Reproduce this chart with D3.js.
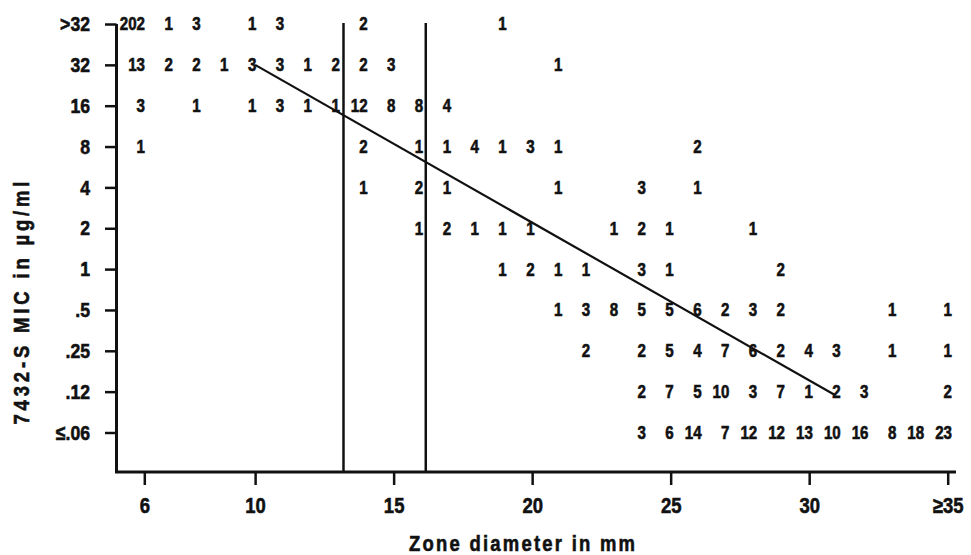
<!DOCTYPE html>
<html lang="en">
<meta charset="utf-8">
<style>
body {
  margin: 0;
  background: #fff;
}
svg text {
  font-family: 'Liberation Sans', Arial, sans-serif;
  font-weight: bold;
  fill: #111;
  stroke: #111;
  stroke-width: 0.6px;
}
.axis .domain {
  display: none;
}
.axis line, .frame, .cut, .reg {
  stroke: #111;
  fill: none;
}
.cell {
  font-size: 18px;
}
.yaxis text {
  font-size: 21px;
}
.xaxis text {
  font-size: 22px;
}
.title {
  font-size: 22px;
}
</style>
<body>
<div id="chart"></div>

<script src="https://d3js.org/d3.v7.min.js"></script>
<script>

// page size
var width = 971,
    height = 555;

// x axis: zone diameter (mm)
var zoneTicks = [6, 10, 15, 20, 25, 30, 35];
var zoneTickLabels = ["6", "10", "15", "20", "25", "30", "\u226535"];

// y axis: MIC rows (>32 and <=.06 put one step past the ends)
var micRows = [64, 32, 16, 8, 4, 2, 1, 0.5, 0.25, 0.125, 0.0625];
var micLabels = [">32", "32", "16", "8", "4", "2", "1", ".5", ".25", ".12", "\u2264.06"];

// number of strains per cell, [zone mm, count], one array per MIC row
var rowGt32 = [[6, 202], [7, 1], [8, 3], [10, 1], [11, 3], [14, 2], [19, 1]];
var row32   = [[6, 13], [7, 2], [8, 2], [9, 1], [10, 3], [11, 3], [12, 1], [13, 2], [14, 2], [15, 3], [21, 1]];
var row16   = [[6, 3], [8, 1], [10, 1], [11, 3], [12, 1], [13, 1], [14, 12], [15, 8], [16, 8], [17, 4]];
var row8    = [[6, 1], [14, 2], [16, 1], [17, 1], [18, 4], [19, 1], [20, 3], [21, 1], [26, 2]];
var row4    = [[14, 1], [16, 2], [17, 1], [21, 1], [24, 3], [26, 1]];
var row2    = [[16, 1], [17, 2], [18, 1], [19, 1], [20, 1], [23, 1], [24, 2], [25, 1], [28, 1]];
var row1    = [[19, 1], [20, 2], [21, 1], [22, 1], [24, 3], [25, 1], [29, 2]];
var rowP5   = [[21, 1], [22, 3], [23, 8], [24, 5], [25, 5], [26, 6], [27, 2], [28, 3], [29, 2], [33, 1], [35, 1]];
var rowP25  = [[22, 2], [24, 2], [25, 5], [26, 4], [27, 7], [28, 6], [29, 2], [30, 4], [31, 3], [33, 1], [35, 1]];
var rowP12  = [[24, 2], [25, 7], [26, 5], [27, 10], [28, 3], [29, 7], [30, 1], [31, 2], [32, 3], [35, 2]];
var rowLe06 = [[24, 3], [25, 6], [26, 14], [27, 7], [28, 12], [29, 12], [30, 13], [31, 10], [32, 16], [33, 8], [34, 18], [35, 23]];

var rows = [rowGt32, row32, row16, row8, row4, row2, row1, rowP5, rowP25, rowP12, rowLe06];

// zone breakpoints (mm) and regression line [zone, MIC]
var breakpoints = [13.19, 16.16];
var regression = [[10, 32], [30.93, 0.118]];

// layout
var axisX = 116.5,
    axisY = 472,
    axisEnd = 956,
    narrow = 0.84; // no condensed font installed, so squeeze glyphs

var x = d3.scaleLinear().domain([6, 35]).range([144.3, 947.7]);
// numbers are set flush right in their column
var xCell = d3.scaleLinear().domain([6, 35]).range([145, 952]);
var y = d3.scaleLog().base(2).domain([64, 0.0625]).range([24, 432.5]);

var svg = d3.select("#chart").append("svg")
    .attr("width", width)
    .attr("height", height);

// axes
var yAxis = svg.append("g")
    .attr("class", "axis yaxis")
    .attr("transform", "translate(" + axisX + ",0)")
    .call(d3.axisLeft(y)
      .tickValues(micRows)
      .tickFormat(function(d, i) { return micLabels[i]; })
      .tickSize(11.5)
      .tickPadding(15));
yAxis.selectAll("line").attr("stroke-width", 2.5);
yAxis.selectAll("text")
    .attr("fill", "#111")
    .attr("x", -26.5 / narrow)
    .attr("transform", "scale(" + narrow + ",1)");

var xAxis = svg.append("g")
    .attr("class", "axis xaxis")
    .attr("transform", "translate(0," + axisY + ")")
    .call(d3.axisBottom(x)
      .tickValues(zoneTicks)
      .tickFormat(function(d, i) { return zoneTickLabels[i]; })
      .tickSize(13)
      .tickPadding(12));
xAxis.selectAll("line").attr("stroke-width", 2.5);
xAxis.selectAll("text")
    .attr("fill", "#111")
    .attr("transform", "scale(" + narrow + ",1)");

// frame: left and bottom axis lines
svg.append("path")
    .attr("class", "frame")
    .attr("stroke-width", 3)
    .attr("d", "M" + axisX + "," + y(micRows[0]) + "V" + axisY + "H" + axisEnd);

// breakpoint lines
svg.selectAll(".cut")
    .data(breakpoints)
  .enter().append("line")
    .attr("class", "cut")
    .attr("stroke-width", 2.5)
    .attr("x1", function(d) { return x(d); })
    .attr("x2", function(d) { return x(d); })
    .attr("y1", y(micRows[0]) - 1)
    .attr("y2", axisY);

// regression line
svg.append("path")
    .datum(regression)
    .attr("class", "reg")
    .attr("stroke-width", 2.2)
    .attr("d", d3.line()
      .x(function(d) { return x(d[0]); })
      .y(function(d) { return y(d[1]); }));

// counts
rows.forEach(function(row, i) {
  svg.append("g")
    .selectAll("text")
      .data(row)
    .enter().append("text")
      .attr("class", "cell")
      .attr("text-anchor", "end")
      .attr("dy", "0.36em")
      .attr("transform", function(d) {
        return "translate(" + xCell(d[0]) + "," + y(micRows[i]) + ") scale(" + narrow + ",1)";
      })
      .text(function(d) { return d[1]; });
});

// axis titles
svg.append("text")
    .attr("class", "title")
    .attr("text-anchor", "middle")
    .attr("transform", "translate(522,551) scale(" + narrow + ",1)")
    .attr("textLength", 226 / narrow)
    .attr("lengthAdjust", "spacing")
    .text("Zone diameter in mm");

svg.append("text")
    .attr("class", "title")
    .attr("text-anchor", "middle")
    .attr("transform", "translate(29,303) rotate(-90) scale(" + narrow + ",1)")
    .attr("textLength", 243 / narrow)
    .attr("lengthAdjust", "spacing")
    .text("7432-S MIC in \u00b5g/ml");

</script>
</body>
</html>
